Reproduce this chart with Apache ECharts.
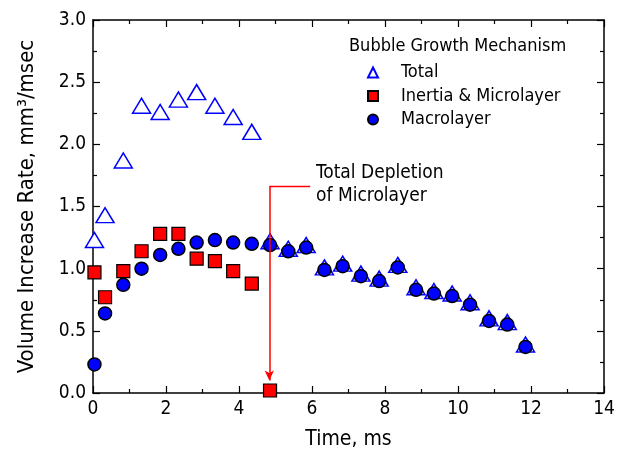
<!DOCTYPE html>
<html>
<head>
<meta charset="utf-8">
<script src="https://cdn.jsdelivr.net/npm/echarts@6/dist/echarts.min.js"></script>
<style>
  html, body { margin: 0; padding: 0; background: #fff; }
  #chart { width: 624px; height: 460px; }
</style>
</head>
<body>
<div id="chart"></div>
<script>
// time points, ms
const time = [0.04, 0.33, 0.83, 1.33, 1.84, 2.34, 2.84, 3.34, 3.84, 4.35, 4.85, 5.35, 5.84,
  6.34, 6.84, 7.34, 7.84, 8.35, 8.85, 9.34, 9.84, 10.33, 10.85, 11.35, 11.85]
const total = [1.21, 1.41, 1.85, 2.29, 2.24, 2.34, 2.40, 2.29, 2.20, 2.08, 1.20, 1.14, 1.17,
  0.99, 1.02, 0.94, 0.90, 1.01, 0.83, 0.80, 0.78, 0.71, 0.58, 0.55, 0.37]
const inertia = [0.97, 0.77, 0.98, 1.14, 1.28, 1.28, 1.08, 1.06, 0.98, 0.88, 0.02]
const macro = [0.23, 0.64, 0.87, 1.00, 1.11, 1.16, 1.21, 1.23, 1.21, 1.20, 1.19, 1.14, 1.17,
  0.99, 1.02, 0.94, 0.90, 1.01, 0.83, 0.80, 0.78, 0.71, 0.58, 0.55, 0.37]
const seriesNames = ['Total', 'Inertia & Microlayer', 'Macrolayer']
// callout: from the text, across, then down to the depleted point
const calloutPath = [[5.95, 1.66], [4.83, 1.66], [4.83, 0.1]]

const font = "'DejaVu Sans Condensed', 'DejaVu Sans', sans-serif"
const pairs = (ys) => ys.map((y, i) => [time[i], y])

const tickStyle = {
  axisTick: { show: true, inside: true, length: 7, lineStyle: { color: '#000', width: 1.2 } },
  minorTick: { show: true, splitNumber: 2, length: 4, lineStyle: { color: '#000', width: 1.2 } }
}
const mirrorAxis = Object.assign({
  axisLine: { show: true, onZero: false, lineStyle: { color: '#000', width: 1.5 } },
  axisLabel: { show: false },
  splitLine: { show: false }
}, tickStyle)

const chart = echarts.init(document.getElementById('chart'))
chart.setOption({
  animation: false,
  textStyle: { fontFamily: font },
  grid: { left: 93, right: 20, top: 20, bottom: 67 },
  title: {
    text: 'Bubble Growth Mechanism',
    left: 349,
    top: 37,
    padding: 0,
    textStyle: { fontFamily: font, fontSize: 18, fontWeight: 'normal', color: '#000' }
  },
  legend: {
    data: seriesNames,
    orient: 'vertical',
    left: 367,
    top: 63,
    padding: 0,
    itemWidth: 10,
    itemHeight: 10,
    itemGap: 4.5,
    textStyle: { fontFamily: font, fontSize: 18, lineHeight: 19, color: '#000', padding: [0, 0, 0, 18] }
  },
  graphic: [{
    type: 'text',
    left: 316,
    top: 162,
    style: {
      text: 'Total Depletion\nof Microlayer',
      font: '19px ' + font,
      lineHeight: 23,
      fill: '#000'
    }
  }],
  xAxis: [Object.assign({
    type: 'value',
    min: 0,
    max: 14,
    interval: 2,
    name: 'Time, ms',
    nameLocation: 'middle',
    nameGap: 36,
    nameTextStyle: { fontFamily: font, fontSize: 21, color: '#000' },
    axisLine: { onZero: false, lineStyle: { color: '#000', width: 1.5 } },
    axisLabel: { fontFamily: font, fontSize: 19, color: '#000', margin: 7 },
    splitLine: { show: false }
  }, tickStyle), Object.assign({ type: 'value', position: 'top', min: 0, max: 14, interval: 2 }, mirrorAxis)],
  yAxis: [Object.assign({
    type: 'value',
    min: 0,
    max: 3,
    interval: 0.5,
    name: 'Volume Increase Rate, mm³/msec',
    nameLocation: 'middle',
    nameGap: 55,
    nameTextStyle: { fontFamily: font, fontSize: 22, color: '#000' },
    axisLine: { onZero: false, lineStyle: { color: '#000', width: 1.5 } },
    axisLabel: { fontFamily: font, fontSize: 19, color: '#000', margin: 7, formatter: v => v.toFixed(1) },
    splitLine: { show: false }
  }, tickStyle), Object.assign({ type: 'value', position: 'right', min: 0, max: 3, interval: 0.5 }, mirrorAxis)],
  series: [{
    name: seriesNames[0],
    type: 'scatter',
    data: pairs(total),
    symbol: 'triangle',
    symbolSize: [18, 15],
    symbolOffset: [0, -2.5],
    z: 2,
    itemStyle: { color: '#fff', borderColor: '#0000ff', borderWidth: 1.5, opacity: 1 }
  }, {
    name: seriesNames[1],
    type: 'scatter',
    data: pairs(inertia),
    symbol: 'rect',
    symbolSize: 13,
    z: 3,
    itemStyle: { color: '#ff0000', borderColor: '#000', borderWidth: 1.2, opacity: 1 }
  }, {
    name: seriesNames[2],
    type: 'scatter',
    data: pairs(macro),
    symbol: 'circle',
    symbolSize: 13,
    z: 4,
    itemStyle: { color: '#0000ff', borderColor: '#000', borderWidth: 1.5, opacity: 1 }
  }, {
    type: 'line',
    data: calloutPath.slice(0, 2),
    symbol: 'none',
    silent: true,
    z: 1,
    lineStyle: { color: '#ff0000', width: 1.5 },
    markLine: {
      silent: true,
      symbol: ['none', 'arrow'],
      symbolSize: [7, 10],
      label: { show: false },
      lineStyle: { color: '#ff0000', width: 1.5, type: 'solid' },
      data: [[{ coord: calloutPath[1] }, { coord: calloutPath[2] }]]
    }
  }]
})
</script>
</body>
</html>
